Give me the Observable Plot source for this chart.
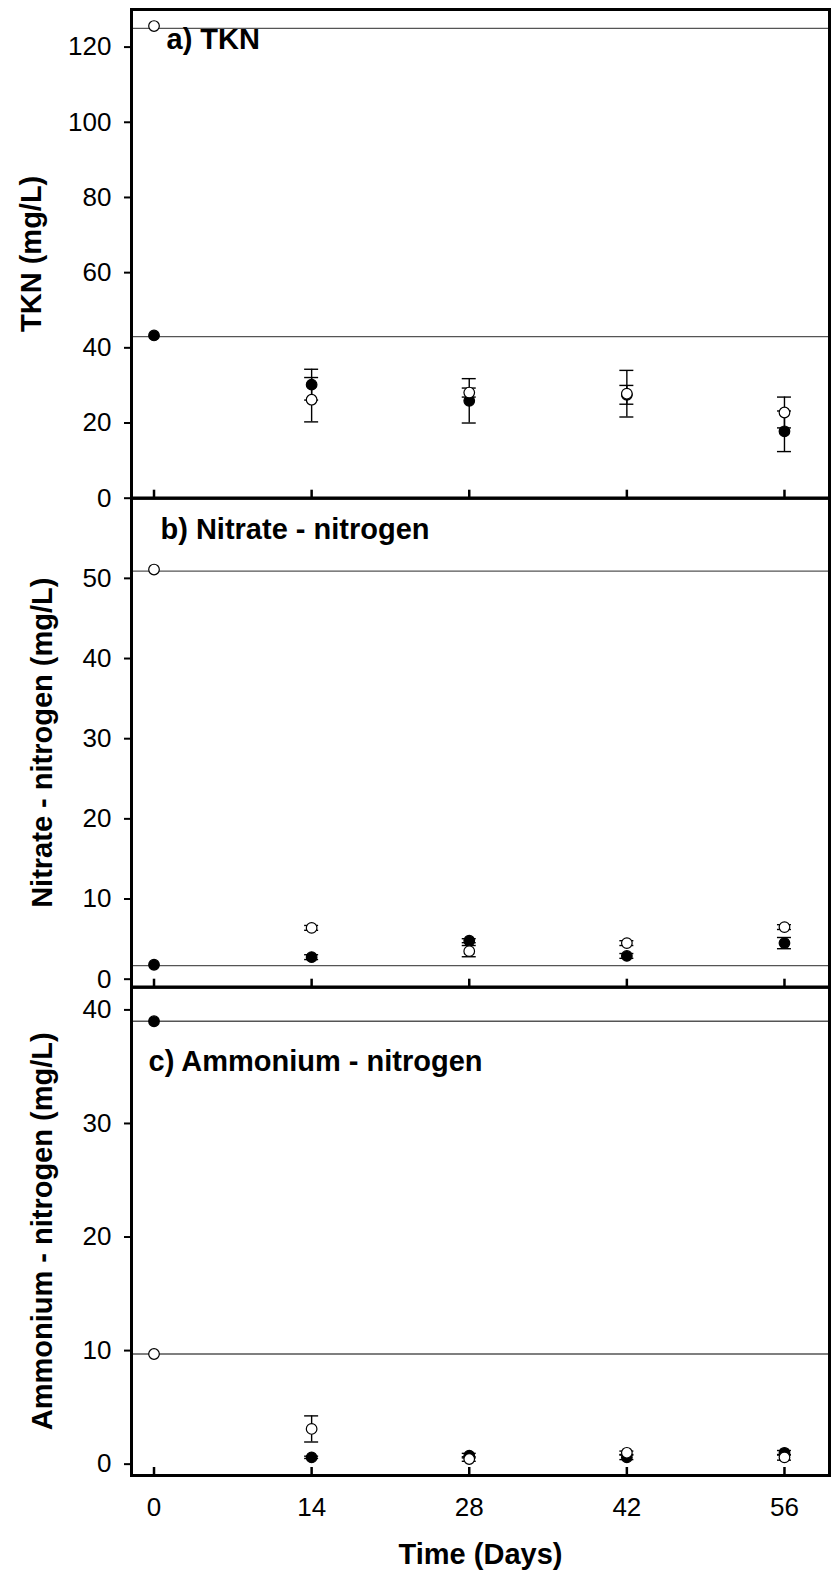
<!DOCTYPE html>
<html><head><meta charset="utf-8">
<script src="https://cdn.jsdelivr.net/npm/d3@7"></script>
<script src="https://cdn.jsdelivr.net/npm/@observablehq/plot@0.6"></script>
<style>
body{margin:0;background:#fff;}
#chart{position:relative;width:834px;height:1580px;background:#fff;}
#chart svg{position:absolute;left:0;top:0;}
</style></head><body><div id="chart"></div>
<script>
// ---- data ----
const days = [0, 14, 28, 42, 56];
const xTicks = [0, 14, 28, 42, 56];
const xTitle = "Time (Days)";

// a) TKN
const tknFilled   = [43.3, 30.2, 25.9, 27.5, 17.8];
const tknFilledSd = [0, 4.1, 5.9, 2.5, 5.4];
const tknOpen     = [125.6, 26.2, 28.1, 27.8, 22.8];
const tknOpenSd   = [0, 5.9, 1.2, 6.2, 4.1];
const tknRefs     = [125, 43];
const tknTicks    = [0, 20, 40, 60, 80, 100, 120];

// b) Nitrate - nitrogen
const no3Filled   = [1.8, 2.75, 4.8, 2.9, 4.5];
const no3FilledSd = [0, 0.3, 0.25, 0.3, 0.7];
const no3Open     = [51.1, 6.4, 3.5, 4.5, 6.5];
const no3OpenSd   = [0, 0.3, 0.7, 0.3, 0.3];
const no3Refs     = [50.9, 1.7];
const no3Ticks    = [0, 10, 20, 30, 40, 50];

// c) Ammonium - nitrogen
const nh4Filled   = [39.0, 0.6, 0.75, 0.6, 1.0];
const nh4FilledSd = [0, 0.1, 0.2, 0.2, 0.2];
const nh4Open     = [9.7, 3.1, 0.45, 1.0, 0.6];
const nh4OpenSd   = [0, 1.15, 0.2, 0.15, 0.25];
const nh4Refs     = [39.0, 9.7];
const nh4Ticks    = [0, 10, 20, 30, 40];

// ---- layout ----
const W = 834, H = 1580;
const font = "'Liberation Sans', Arial, Helvetica, sans-serif";
const xDomain = [-2, 60];

const panels = [
  {mT: 9, mB: H - 497.7, yDomain: [0, 130], yTicks: tknTicks,
   filled: tknFilled, filledSd: tknFilledSd, open: tknOpen, openSd: tknOpenSd, refs: tknRefs,
   title: "TKN (mg/L)", titleDx: -100, label: "a) TKN", labelDx: 35, labelDy: 19, xAxis: false},
  {mT: 497.7, mB: H - 986.7, yDomain: [-1, 60], yTicks: no3Ticks,
   filled: no3Filled, filledSd: no3FilledSd, open: no3Open, openSd: no3OpenSd, refs: no3Refs,
   title: "Nitrate - nitrogen (mg/L)", titleDx: -89, label: "b) Nitrate - nitrogen", labelDx: 29, labelDy: 20, xAxis: false},
  {mT: 986.7, mB: H - 1475, yDomain: [-1, 42], yTicks: nh4Ticks,
   filled: nh4Filled, filledSd: nh4FilledSd, open: nh4Open, openSd: nh4OpenSd, refs: nh4Refs,
   title: "Ammonium - nitrogen (mg/L)", titleDx: -89, label: "c) Ammonium - nitrogen", labelDx: 17, labelDy: 63, xAxis: true}
];

function series(vals, sds) {
  return days.map((d, i) => ({day: d, v: vals[i], sd: sds[i]}));
}

function errMarks(data) {
  const e = data.filter(d => d.sd > 0);
  return [
    Plot.ruleX(e, {x: "day", y1: d => d.v - d.sd, y2: d => d.v + d.sd, stroke: "black", strokeWidth: 1.4}),
    Plot.ruleY(e, {x1: "day", x2: "day", y: d => d.v + d.sd, insetLeft: -7, insetRight: -7, stroke: "black", strokeWidth: 1.4}),
    Plot.ruleY(e, {x1: "day", x2: "day", y: d => d.v - d.sd, insetLeft: -7, insetRight: -7, stroke: "black", strokeWidth: 1.4})
  ];
}

const chart = document.getElementById("chart");

for (const p of panels) {
  const f = series(p.filled, p.filledSd);
  const o = series(p.open, p.openSd);
  const y0 = p.yDomain[0];
  const marks = [
    Plot.ruleY(p.refs, {stroke: "#555", strokeWidth: 1.3}),
    Plot.ruleX(xTicks, {x: d => d, y1: () => y0, y2: () => y0, insetTop: -8, stroke: "black", strokeWidth: 2.5}),
    ...errMarks(f),
    Plot.dot(f, {x: "day", y: "v", r: 5.3, fill: "black", stroke: "black", strokeWidth: 1.2}),
    ...errMarks(o),
    Plot.dot(o, {x: "day", y: "v", r: 5.3, fill: "white", stroke: "black", strokeWidth: 1.2}),
    Plot.frame({stroke: "black", strokeWidth: 3}),
    Plot.axisY({ticks: p.yTicks, tickSize: 7, tickPadding: 13, strokeWidth: 2, fontSize: 26, label: null}),
    Plot.text([p.title], {text: d => d, frameAnchor: "left", textAnchor: "middle", lineAnchor: "middle", rotate: -90, dx: p.titleDx, fontSize: 29, fontWeight: "bold", fill: "black"}),
    Plot.text([p.label], {text: d => d, frameAnchor: "top-left", textAnchor: "start", lineAnchor: "top", dx: p.labelDx, dy: p.labelDy, fontSize: 29, fontWeight: "bold", fill: "black"})
  ];
  if (p.xAxis) {
    marks.push(Plot.axisX({ticks: xTicks, tickSize: 0, tickPadding: 22, fontSize: 26, label: null}));
    marks.push(Plot.text([xTitle], {text: d => d, frameAnchor: "bottom", lineAnchor: "top", dy: 68, fontSize: 29, fontWeight: "bold", fill: "black"}));
  }
  const svg = Plot.plot({
    width: W, height: H,
    marginLeft: 131, marginRight: 5, marginTop: p.mT, marginBottom: p.mB,
    x: {domain: xDomain, axis: null},
    y: {domain: p.yDomain, axis: null},
    style: {fontFamily: font, fontSize: "26px", color: "black", background: "transparent", overflow: "visible"},
    marks
  });
  chart.appendChild(svg);
}
</script></body></html>
